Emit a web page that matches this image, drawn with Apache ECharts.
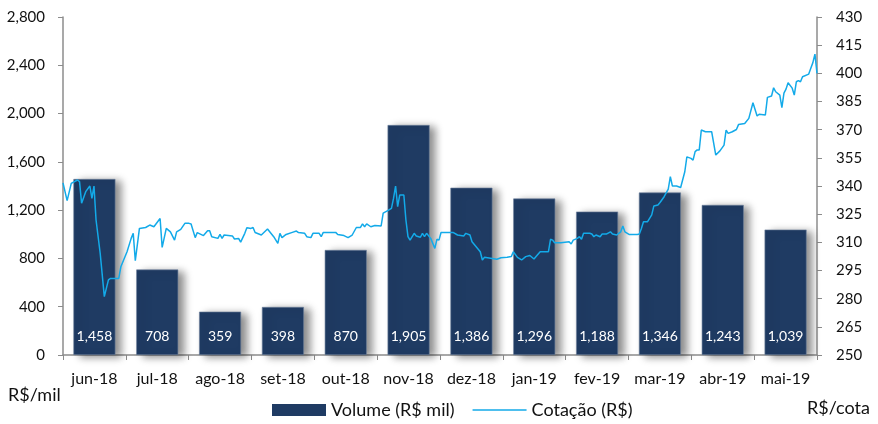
<!DOCTYPE html>
<html>
<head>
<meta charset="utf-8">
<script src="https://cdn.jsdelivr.net/npm/echarts@6/dist/echarts.min.js"></script>
<style>
  html, body { margin: 0; padding: 0; background: #fff; }
  #main { width: 878px; height: 424px; }
</style>
</head>
<body>
<div id="main"></div>
<script>
// meses (eixo de categorias)
const months = ['jun-18', 'jul-18', 'ago-18', 'set-18', 'out-18', 'nov-18',
  'dez-18', 'jan-19', 'fev-19', 'mar-19', 'abr-19', 'mai-19'];
// volume mensal, R$ mil
const volume = [1458, 708, 359, 398, 870, 1905, 1386, 1296, 1188, 1346, 1243, 1039];

// cotação diária: dias desde 01/06/2018 e preço (R$)
const quoteDay = [0, 2, 4, 7, 8, 9, 11, 13, 14, 15, 16, 18, 20, 22, 23, 27, 28, 31, 33, 34,
  35, 37, 40, 42, 44, 47, 48, 50, 52, 54, 55, 57, 59, 61, 62, 64, 65, 68, 70, 71,
  72, 75, 76, 77, 78, 82, 83, 85, 86, 88, 89, 91, 92, 93, 96, 99, 102, 104, 105, 106,
  108, 111, 113, 114, 117, 118, 120, 121, 124, 125, 126, 132, 133, 136, 138, 140, 142, 144, 145, 146,
  147, 149, 151, 154, 155, 157, 159, 160, 161, 162, 163, 165, 166, 167, 168, 170, 171, 173, 174, 175,
  176, 178, 180, 181, 182, 183, 187, 189, 191, 194, 195, 197, 198, 200, 202, 203, 204, 207, 210, 212,
  215, 217, 218, 220, 222, 224, 226, 228, 229, 231, 232, 235, 236, 237, 238, 241, 245, 246, 247, 249,
  250, 251, 252, 255, 256, 257, 258, 260, 261, 263, 265, 266, 268, 270, 271, 272, 274, 278, 279, 280,
  281, 283, 285, 286, 288, 289, 291, 293, 294, 295, 297, 299, 301, 302, 304, 305, 306, 307, 308, 309,
  311, 314, 316, 318, 320, 321, 322, 324, 326, 327, 330, 332, 334, 336, 337, 340, 341, 343, 344, 345,
  347, 348, 349, 350, 351, 353, 354, 355, 356, 357, 358, 361, 362, 363, 364, 365];
const quotePrice = [341.7, 332.2, 341.4, 343.2, 342.3, 330.8, 337.0, 340.0, 333.4, 340.0, 321.9, 304.2, 281.1, 290.0, 290.8, 290.8, 297.0, 305.0, 312.1, 314.8,
  300.2, 317.4, 317.9, 319.2, 318.3, 322.7, 307.3, 317.4, 315.6, 311.2, 315.6, 316.9, 320.1, 320.1, 319.8, 312.5, 315.2, 313.6, 316.2, 316.2,
  313.0, 312.1, 314.2, 312.1, 313.9, 313.4, 311.8, 312.1, 310.1, 314.8, 317.8, 317.4, 317.9, 315.2, 313.9, 317.1, 313.0, 309.4, 314.8, 312.5,
  314.2, 315.3, 316.0, 315.2, 314.8, 313.0, 312.5, 314.8, 314.8, 313.0, 315.3, 315.3, 314.2, 313.6, 312.5, 313.9, 317.9, 317.9, 319.8, 318.3,
  319.8, 318.3, 319.0, 318.7, 325.5, 326.8, 328.1, 333.4, 340.0, 329.0, 335.2, 335.2, 321.9, 313.0, 311.2, 314.8, 313.4, 312.7, 314.8, 313.0,
  314.8, 312.1, 306.8, 311.6, 311.2, 315.2, 315.2, 315.2, 313.9, 313.4, 314.8, 313.9, 310.3, 307.7, 305.0, 300.6, 302.0, 301.5, 301.0, 301.8,
  302.0, 302.4, 305.0, 302.0, 300.6, 302.4, 303.0, 301.1, 302.4, 305.0, 305.0, 305.0, 311.6, 311.2, 309.8, 309.8, 310.3, 309.1, 311.2, 312.1,
  313.0, 311.6, 314.8, 314.8, 314.4, 313.0, 313.9, 313.0, 314.4, 314.4, 315.6, 314.4, 313.9, 315.6, 318.7, 315.6, 314.2, 314.2, 314.4, 317.4,
  321.0, 321.0, 324.6, 329.3, 329.9, 331.2, 334.3, 338.3, 345.0, 340.0, 340.0, 339.2, 347.6, 355.5, 354.7, 353.8, 358.3, 359.2, 359.2, 369.8,
  368.9, 368.9, 356.5, 358.7, 361.8, 369.8, 368.0, 368.9, 370.1, 372.7, 373.3, 376.0, 384.3, 377.3, 378.2, 377.8, 387.2, 387.9, 392.3, 390.2,
  388.4, 381.7, 389.5, 391.6, 395.0, 392.1, 388.4, 395.5, 396.1, 395.5, 398.2, 399.6, 402.7, 405.7, 410.2, 400.0];

const DAY = 86400000;
const startTs = Date.UTC(2018, 5, 1);
const quoteData = quoteDay.map((d, i) => [startTs + d * DAY, quotePrice[i]]);

const font = 'Lato, "Open Sans", sans-serif';
const fmt = v => v.toLocaleString('en-US');

const chartDom = document.getElementById('main');
const myChart = echarts.init(chartDom, null, { renderer: 'canvas' });

myChart.setOption({
  animation: false,
  textStyle: { fontFamily: font },
  grid: { left: 63, right: 61, top: 17, bottom: 69 },
  legend: {
    left: 267,
    bottom: 0,
    itemGap: 18,
    itemWidth: 54,
    itemHeight: 12,
    textStyle: { fontSize: 18, color: '#111', fontFamily: font },
    data: [
      { name: 'Volume (R$ mil)', icon: 'rect', itemStyle: { borderWidth: 0, shadowBlur: 0, shadowOffsetX: 0, shadowOffsetY: 0 } },
      { name: 'Cotação (R$)', icon: 'path://M0,0 H54 V1.5 H0 Z' }
    ]
  },
  graphic: [
    { type: 'text', left: 8, top: 386, style: { text: 'R$/mil', font: '18px ' + font, fill: '#111' } },
    { type: 'text', right: 8, top: 399, style: { text: 'R$/cota', font: '18px ' + font, fill: '#111' } }
  ],
  xAxis: [
    {
      type: 'category',
      data: months,
      axisLine: { lineStyle: { color: '#8c8c8c', width: 1.5 } },
      axisTick: { show: true, length: 5, lineStyle: { color: '#8c8c8c' } },
      axisLabel: { interval: 0, fontSize: 16, color: '#111', margin: 16 }
    },
    {
      type: 'time',
      show: false,
      min: startTs,
      max: startTs + 365 * DAY
    }
  ],
  yAxis: [
    {
      type: 'value',
      min: 0,
      max: 2800,
      interval: 400,
      splitLine: { show: false },
      axisLine: { show: true, lineStyle: { color: '#8c8c8c', width: 1.5 } },
      axisTick: { show: true, length: 5, lineStyle: { color: '#8c8c8c' } },
      axisLabel: { fontSize: 15, color: '#111', margin: 18, formatter: fmt }
    },
    {
      type: 'value',
      min: 250,
      max: 430,
      interval: 15,
      position: 'right',
      splitLine: { show: false },
      axisLine: { show: true, lineStyle: { color: '#8c8c8c', width: 1.5 } },
      axisTick: { show: true, length: 5, lineStyle: { color: '#8c8c8c' } },
      axisLabel: { fontSize: 15, color: '#111', margin: 19 }
    }
  ],
  series: [
    {
      name: 'Volume (R$ mil)',
      type: 'bar',
      xAxisIndex: 0,
      yAxisIndex: 0,
      data: volume,
      barWidth: 42,
      itemStyle: {
        color: '#1f3b63',
        borderColor: '#6f819c',
        borderWidth: 0.6,
        shadowColor: 'rgba(0,0,0,0.45)',
        shadowBlur: 8,
        shadowOffsetX: 6,
        shadowOffsetY: 2
      },
      label: {
        show: true,
        position: 'insideBottom',
        distance: 12,
        color: '#fff',
        fontSize: 14,
        fontFamily: font,
        formatter: p => fmt(p.value)
      }
    },
    {
      name: 'Cotação (R$)',
      type: 'line',
      xAxisIndex: 1,
      yAxisIndex: 1,
      data: quoteData,
      symbol: 'none',
      z: 5,
      lineStyle: { color: '#13aae9', width: 1.5 },
      itemStyle: { color: '#13aae9' }
    }
  ]
});
</script>
</body>
</html>
